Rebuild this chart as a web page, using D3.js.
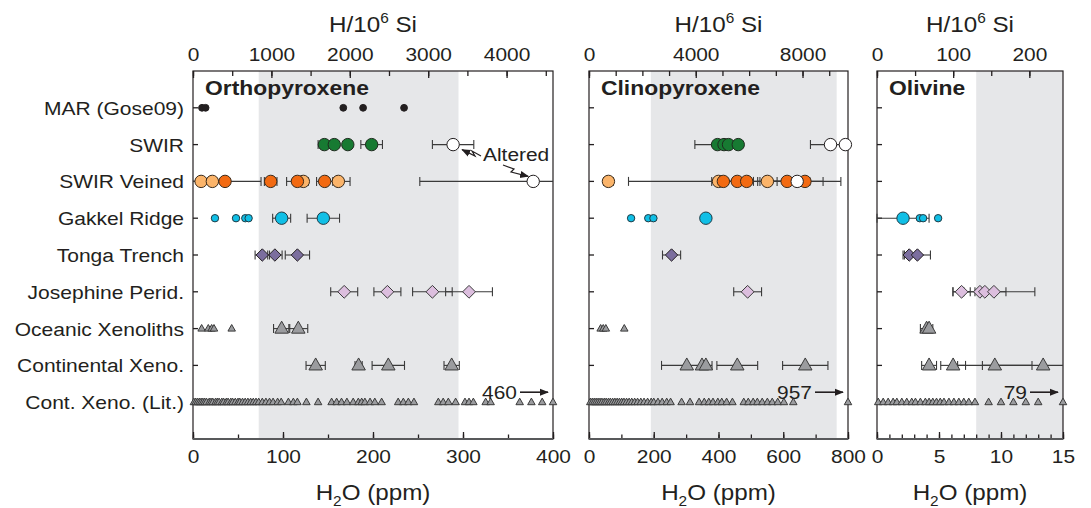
<!DOCTYPE html>
<html><head><meta charset="utf-8">
<script src="https://cdn.jsdelivr.net/npm/d3@7"></script>
<style>body{margin:0;background:#fff}text{font-family:"Liberation Sans",Arial,Helvetica,sans-serif;fill:#231f20}</style>
</head><body><svg id="c" width="1091" height="508"></svg>
<script>
// ---------- categories ----------
const rows = ["MAR (Gose09)", "SWIR", "SWIR Veined", "Gakkel Ridge", "Tonga Trench",
  "Josephine Perid.", "Oceanic Xenoliths", "Continental Xeno.", "Cont. Xeno. (Lit.)"];

// ---------- tick labels ----------
const opxBottomTicks = [0, 100, 200, 300, 400];
const cpxBottomTicks = [0, 200, 400, 600, 800];
const olBottomTicks = [0, 5, 10, 15];
const opxTopTicks = [0, 1000, 2000, 3000, 4000];
const cpxTopTicks = [0, 4000, 8000];
const olTopTicks = [0, 100, 200];

// ---------- orthopyroxene (ppm H2O) ----------
const opx_MAR = [10, 14, 167, 189, 234.5];
const opx_SWIR = [146, 157, 172, 198.5];
const opx_SWIR_err = [7, 0, 0, 12];
const opx_SWIR_alt = [289];
const opx_SWIR_alt_err = [23];
const opx_Vein_light = [9, 21.5, 122.6, 161.5];
const opx_Vein_light_err = [0, 0, 0, 13];
const opx_Vein_dark = [35.6, 86.3, 116, 146.3];
const opx_Vein_dark_err = [40, 7, 12, 9];
const opx_Vein_alt = [378];
const opx_Vein_alt_err = [126];
const opx_Gak_small = [24.4, 47.8, 58.1, 61.8];
const opx_Gak = [98.5, 144.8];
const opx_Gak_err = [10, 18];
const opx_Tonga = [77, 91, 116];
const opx_Tonga_err = [8, 8, 13.5];
const opx_Jos = [168, 216, 266, 306.7];
const opx_Jos_err = [15, 15, 22, 26];
const opx_Oce_small = [9.6, 17, 20.7, 23.3, 43];
const opx_Oce = [98.5, 117];
const opx_Oce_err = [9, 10.5];
const opx_Cont = [136.3, 184, 217, 287.4];
const opx_Cont_err = [10.7, 4, 18, 8.5];
const opx_Lit = [1, 3, 5, 7, 9, 11, 13, 15, 18, 20, 22, 25, 27, 29, 32, 34, 37, 39, 42, 44, 47, 50,
  52, 55, 58, 61, 64, 67, 70, 73, 77, 81, 85, 89, 94, 98, 106, 111.5, 116, 126, 139, 154, 159.6,
  165, 171, 178, 183.7, 187.4, 191, 196.7, 202, 209.6, 228, 233.7, 239.3, 245.5, 272.6, 278,
  283.7, 291.8, 302.2, 306.7, 311.5, 325.2, 330.7, 363, 376, 388, 460];

// ---------- clinopyroxene ----------
const cpx_SWIR = [397, 417, 431, 461];
const cpx_SWIR_err = [70, 0, 0, 0];
const cpx_SWIR_alt = [746, 792];
const cpx_SWIR_alt_err = [62, 0];
const cpx_Vein_light = [60, 400, 551];
const cpx_Vein_light_err = [15, 278, 30];
const cpx_Vein_dark = [415, 458, 487, 612, 667];
const cpx_Vein_dark_err = [36, 50, 41, 70, 111];
const cpx_Vein_alt = [643];
const cpx_Vein_alt_err = [80];
const cpx_Gak_small = [130, 183, 199];
const cpx_Gak = [361];
const cpx_Tonga = [255];
const cpx_Tonga_err = [28];
const cpx_Jos = [490];
const cpx_Jos_err = [43];
const cpx_Oce_small = [36, 44, 52, 109];
const cpx_Cont = [302, 349, 361, 458, 668];
const cpx_Cont_err = [78, 0, 0, 63, 70];
const cpx_Lit = [4, 10, 16, 22, 28, 34, 40, 47, 53, 60, 66, 73, 80, 87, 94, 101, 108, 116, 124, 132,
  141, 150, 160, 170, 181, 192, 200, 213, 226, 240, 252, 286, 312, 340, 356, 370, 383, 398, 410,
  425, 443, 478, 492, 507, 520, 535, 551, 566, 583, 602, 631, 957];

// ---------- olivine ----------
const ol_Gak = [2.1];
const ol_Gak_err = [2.1];
const ol_Gak_small = [3.45, 3.72, 4.93];
const ol_Tonga = [2.6, 3.26];
const ol_Tonga_err = [0.5, 1.05];
const ol_Jos = [6.82, 8.3, 8.7, 9.43];
const ol_Jos_err = [0.7, 0.4, 1.7, 3.3];
const ol_Oce = [4.0, 4.2];
const ol_Oce_err = [0.5, 0];
const ol_Cont = [4.2, 6.14, 9.5, 13.4];
const ol_Cont_err = [0.6, 1.0, 3.0, 4.9];
const ol_Lit = [0.1, 0.5, 0.9, 1.3, 1.6, 2.0, 2.4, 2.8, 3.1, 3.5, 3.9, 4.2, 4.5, 4.8, 5.1, 5.4,
  5.8, 6.2, 6.6, 7.0, 7.4, 7.9, 9.0, 10.0, 11.0, 12.0, 13.0, 79];

// shaded ranges (ppm) and top-axis conversion (H/10^6 Si per ppm)
const opxShade = [73, 295], cpxShade = [191, 765], olShade = [8, 15];
const opxFactor = 11.48, cpxFactor = 12.13, olFactor = 16.28;
const offscale = [["opx", 460], ["cpx", 957], ["ol", 79]];

// ---------- styles ----------
const ST = {
  dot:   {shape: "circle", r: 3.4, fill: "#231f20", stroke: "#231f20"},
  green: {shape: "circle", r: 6.2, fill: "#177a32", stroke: "#1e2a1e"},
  white: {shape: "circle", r: 6.2, fill: "#ffffff", stroke: "#231f20"},
  lor:   {shape: "circle", r: 6.2, fill: "#fbb46a", stroke: "#3a2a1a"},
  dor:   {shape: "circle", r: 6.2, fill: "#f26a12", stroke: "#3a2a1a"},
  cyan:  {shape: "circle", r: 6.2, fill: "#10bfe6", stroke: "#1f3a44"},
  cyanS: {shape: "circle", r: 3.7, fill: "#10bfe6", stroke: "#1f3a44"},
  tonga: {shape: "diamond", r: 6.2, fill: "#7b6e9e", stroke: "#231f20"},
  jos:   {shape: "diamond", r: 6.4, fill: "#dcbede", stroke: "#3a3a3a"},
  triL:  {shape: "tri", w: 13.5, h: 12, fill: "#9b9c9f", stroke: "#3a3a3a"},
  triS:  {shape: "tri", w: 7.5, h: 6.6, fill: "#9b9c9f", stroke: "#3a3a3a"}
};

// series table: [panel, row index, values, errors, style]
const series = [
  ["opx", 0, opx_MAR, null, "dot"],
  ["opx", 1, opx_SWIR, opx_SWIR_err, "green"],
  ["opx", 1, opx_SWIR_alt, opx_SWIR_alt_err, "white"],
  ["opx", 2, opx_Vein_light, opx_Vein_light_err, "lor"],
  ["opx", 2, opx_Vein_dark, opx_Vein_dark_err, "dor"],
  ["opx", 2, opx_Vein_alt, opx_Vein_alt_err, "white"],
  ["opx", 3, opx_Gak_small, null, "cyanS"],
  ["opx", 3, opx_Gak, opx_Gak_err, "cyan"],
  ["opx", 4, opx_Tonga, opx_Tonga_err, "tonga"],
  ["opx", 5, opx_Jos, opx_Jos_err, "jos"],
  ["opx", 6, opx_Oce_small, null, "triS"],
  ["opx", 6, opx_Oce, opx_Oce_err, "triL"],
  ["opx", 7, opx_Cont, opx_Cont_err, "triL"],
  ["opx", 8, opx_Lit, null, "triS"],
  ["cpx", 1, cpx_SWIR, cpx_SWIR_err, "green"],
  ["cpx", 1, cpx_SWIR_alt, cpx_SWIR_alt_err, "white"],
  ["cpx", 2, cpx_Vein_light, cpx_Vein_light_err, "lor"],
  ["cpx", 2, cpx_Vein_dark, cpx_Vein_dark_err, "dor"],
  ["cpx", 2, cpx_Vein_alt, cpx_Vein_alt_err, "white"],
  ["cpx", 3, cpx_Gak_small, null, "cyanS"],
  ["cpx", 3, cpx_Gak, null, "cyan"],
  ["cpx", 4, cpx_Tonga, cpx_Tonga_err, "tonga"],
  ["cpx", 5, cpx_Jos, cpx_Jos_err, "jos"],
  ["cpx", 6, cpx_Oce_small, null, "triS"],
  ["cpx", 7, cpx_Cont, cpx_Cont_err, "triL"],
  ["cpx", 8, cpx_Lit, null, "triS"],
  ["ol", 3, ol_Gak, ol_Gak_err, "cyan"],
  ["ol", 3, ol_Gak_small, null, "cyanS"],
  ["ol", 4, ol_Tonga, ol_Tonga_err, "tonga"],
  ["ol", 5, ol_Jos, ol_Jos_err, "jos"],
  ["ol", 6, ol_Oce, ol_Oce_err, "triL"],
  ["ol", 7, ol_Cont, ol_Cont_err, "triL"],
  ["ol", 8, ol_Lit, null, "triS"]
];

// ---------- layout ----------
const SX = 1.1;
const PT = 71, PB = 439;
const svg = d3.select("#c");
const y = d3.scalePoint().domain(rows).range([PT, PB]).padding(1);

const panels = {
  opx: {title: "Orthopyroxene", x: d3.scaleLinear().domain([0, 400]).range([193, 553]),
        shade: opxShade, factor: opxFactor, topTicks: opxTopTicks, topMinorStep: 500,
        botTicks: opxBottomTicks, botMinorStep: 50},
  cpx: {title: "Clinopyroxene", x: d3.scaleLinear().domain([0, 800]).range([589, 848]),
        shade: cpxShade, factor: cpxFactor, topTicks: cpxTopTicks, topMinorStep: 1000,
        botTicks: cpxBottomTicks, botMinorStep: 100},
  ol:  {title: "Olivine", x: d3.scaleLinear().domain([0, 15]).range([877, 1063]),
        shade: olShade, factor: olFactor, topTicks: olTopTicks, topMinorStep: 50,
        botTicks: olBottomTicks, botMinorStep: 1}
};

function stext(g, x, yy, str, size, anchor, weight) {
  return g.append("text").attr("transform", `translate(${x},${yy}) scale(${SX},1)`)
    .attr("text-anchor", anchor || "start").attr("font-size", size)
    .attr("font-weight", weight || "normal").text(str);
}

// row labels
rows.forEach(r => stext(svg, 184, y(r) + 7, r, 19.1, "end"));

Object.entries(panels).forEach(([key, p]) => {
  const x = p.x, [d0, d1] = x.domain();
  const g = svg.append("g");
  // shade
  g.append("rect").attr("x", x(p.shade[0])).attr("y", PT)
    .attr("width", x(p.shade[1]) - x(p.shade[0])).attr("height", PB - PT).attr("fill", "#e6e7e9");
  // top axis in H/10^6 Si
  const xt = d3.scaleLinear().domain([d0 * p.factor, d1 * p.factor]).range(x.range());
  const topMinor = d3.range(0, d1 * p.factor, p.topMinorStep);
  g.append("g").attr("transform", `translate(0,${PT})`)
    .call(d3.axisTop(xt).tickValues(topMinor).tickSize(-5).tickFormat(""))
    .call(a => a.select(".domain").remove());
  const ta = g.append("g").attr("transform", `translate(0,${PT})`)
    .call(d3.axisTop(xt).tickValues(p.topTicks).tickSize(-7).tickPadding(10).tickFormat(d3.format("d")))
    .call(a => a.select(".domain").remove());
  ta.selectAll("text").attr("font-size", 19).attr("fill", "#231f20").attr("font-family", null)
    .attr("transform", `scale(${SX},1)`);
  // bottom axis
  const botMinor = d3.range(d0, d1 + 1e-9, p.botMinorStep);
  g.append("g").attr("transform", `translate(0,${PB})`)
    .call(d3.axisBottom(x).tickValues(botMinor).tickSize(-4.5).tickFormat(""))
    .call(a => a.select(".domain").remove());
  const ba = g.append("g").attr("transform", `translate(0,${PB})`)
    .call(d3.axisBottom(x).tickValues(p.botTicks).tickSize(-7).tickPadding(11).tickFormat(d3.format("d")))
    .call(a => a.select(".domain").remove());
  ba.selectAll("text").attr("font-size", 19).attr("fill", "#231f20").attr("font-family", null)
    .attr("transform", `scale(${SX},1)`);
  g.selectAll(".tick line").attr("stroke", "#231f20").attr("stroke-width", 1.3);
  // left row ticks
  rows.forEach(r => g.append("line").attr("x1", x(d0)).attr("x2", x(d0) + 5)
    .attr("y1", y(r)).attr("y2", y(r)).attr("stroke", "#231f20").attr("stroke-width", 1.3));
  // border
  g.append("rect").attr("x", x(d0)).attr("y", PT).attr("width", x(d1) - x(d0)).attr("height", PB - PT)
    .attr("fill", "none").attr("stroke", "#231f20").attr("stroke-width", 1.2);
  g.append("line").attr("x1", x(d0)).attr("x2", x(d1)).attr("y1", PB).attr("y2", PB)
    .attr("stroke", "#58595b").attr("stroke-width", 2.2);
  // titles
  stext(g, x(d0) + 12, 95, p.title, 20.8, "start", "bold");
  const cx = (x(d0) + x(d1)) / 2;
  const tt = g.append("text").attr("transform", `translate(${cx},32) scale(${SX},1)`)
    .attr("text-anchor", "middle").attr("font-size", 22);
  tt.append("tspan").text("H/10");
  tt.append("tspan").attr("font-size", 14).attr("dy", -9).text("6");
  tt.append("tspan").attr("dy", 9).text(" Si");
  const bt = g.append("text").attr("transform", `translate(${cx},500) scale(${SX},1)`)
    .attr("text-anchor", "middle").attr("font-size", 22);
  bt.append("tspan").text("H");
  bt.append("tspan").attr("font-size", 14).attr("dy", 6).text("2");
  bt.append("tspan").attr("dy", -6).text("O (ppm)");
  p.g = g;
});

// error bars first
series.forEach(([pk, ri, vals, errs]) => {
  if (!errs) return;
  const p = panels[pk], x = p.x, [d0, d1] = x.domain(), yy = y(rows[ri]);
  vals.forEach((v, i) => {
    const e = errs[i]; if (!e) return;
    const lo = Math.max(d0, v - e), hi = Math.min(d1, v + e);
    p.g.append("line").attr("x1", x(lo)).attr("x2", x(hi)).attr("y1", yy).attr("y2", yy)
      .attr("stroke", "#3a3a3a").attr("stroke-width", 1.1);
    [[v - e, lo], [v + e, hi]].forEach(([raw, c]) => {
      if (raw < d0 || raw > d1) return;
      p.g.append("line").attr("x1", x(c)).attr("x2", x(c)).attr("y1", yy - 4.5).attr("y2", yy + 4.5)
        .attr("stroke", "#3a3a3a").attr("stroke-width", 1.1);
    });
  });
});

// markers
series.forEach(([pk, ri, vals, errs, sk]) => {
  const p = panels[pk], x = p.x, [d0, d1] = x.domain(), yy = y(rows[ri]), s = ST[sk];
  vals.forEach(v => {
    const cx = x(Math.min(d1, Math.max(d0, v)));
    let m;
    if (s.shape === "circle") m = p.g.append("circle").attr("cx", cx).attr("cy", yy).attr("r", s.r);
    else if (s.shape === "diamond") m = p.g.append("path")
      .attr("d", `M${cx},${yy - s.r}L${cx + s.r},${yy}L${cx},${yy + s.r}L${cx - s.r},${yy}Z`);
    else m = p.g.append("path")
      .attr("d", `M${cx},${yy - s.h * 0.62}L${cx + s.w / 2},${yy + s.h * 0.38}L${cx - s.w / 2},${yy + s.h * 0.38}Z`);
    m.attr("fill", s.fill).attr("stroke", s.stroke).attr("stroke-width", 1);
  });
});

// arrow marker
const defs = svg.append("defs");
defs.append("marker").attr("id", "ah").attr("viewBox", "0 0 10 10").attr("refX", 9).attr("refY", 5)
  .attr("markerWidth", 9).attr("markerHeight", 9).attr("orient", "auto-start-reverse")
  .attr("markerUnits", "userSpaceOnUse")
  .append("path").attr("d", "M0,1L10,5L0,9Z").attr("fill", "#231f20");

// off-scale labels
offscale.forEach(([pk, v]) => {
  const p = panels[pk], x = p.x, d1 = x.domain()[1], xr = x(d1), yy = y(rows[8]) - 10;
  stext(p.g, xr - 36, yy + 7, String(v), 19, "end");
  p.g.append("line").attr("x1", xr - 33).attr("x2", xr - 5).attr("y1", yy).attr("y2", yy)
    .attr("stroke", "#231f20").attr("stroke-width", 1.6).attr("marker-end", "url(#ah)");
});

// "Altered" annotation
const po = panels.opx, xo = po.x;
stext(po.g, 483, 161, "Altered", 19, "start");
const a1x = xo(opx_SWIR_alt[0]) + 7, a1y = y(rows[1]) + 4;
po.g.append("path").attr("d", `M481,156 L472,151 L475,156 L${a1x + 2},${a1y + 1}`)
  .attr("fill", "none").attr("stroke", "#231f20").attr("stroke-width", 1.2).attr("marker-end", "url(#ah)");
const a2x = xo(Math.min(400, opx_Vein_alt[0])) - 5, a2y = y(rows[2]) - 5;
po.g.append("path").attr("d", `M503,165 L514,169 L511,172 L${a2x},${a2y}`)
  .attr("fill", "none").attr("stroke", "#231f20").attr("stroke-width", 1.2).attr("marker-end", "url(#ah)");
</script></body></html>
